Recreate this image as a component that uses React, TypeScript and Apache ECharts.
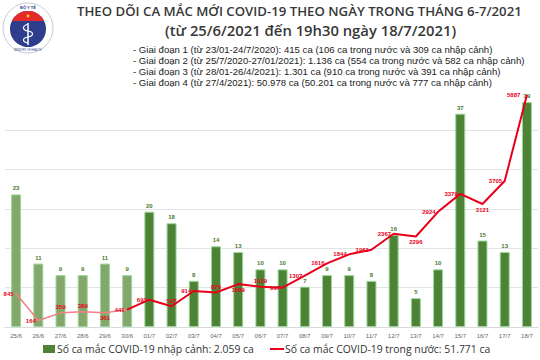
import React, { useEffect, useRef } from "react";
import * as echarts from "echarts";

const CATEGORIES = ["25/6","26/6","27/6","28/6","29/6","30/6","01/7","02/7","03/7","04/7","05/7","06/7","07/7","08/7","09/7","10/7","11/7","12/7","13/7","14/7","15/7","16/7","17/7","18/7"];
const IMPORTED = [23,11,9,9,11,9,20,18,8,14,13,10,10,7,9,9,8,16,5,10,37,15,13,39];
const DOMESTIC = [845,164,359,389,361,441,693,527,914,876,1089,1019,997,1307,1616,1844,1961,2367,2296,2924,3379,3121,3705,5887];
const LIGHT_COUNT = 6; // first period drawn lighter

const TITLE = "THEO DÕI CA MẮC MỚI COVID-19 THEO NGÀY TRONG THÁNG 6-7/2021";
const SUBTITLE = "(từ 25/6/2021 đến 19h30 ngày 18/7/2021)";
const NOTES = [
  "- Giai đoạn 1 (từ 23/01-24/7/2020): 415 ca (106 ca trong nước và 309 ca nhập cảnh)",
  "- Giai đoạn 2 (từ 25/7/2020-27/01/2021): 1.136 ca (554 ca trong nước và 582 ca nhập cảnh)",
  "- Giai đoạn 3 (từ 28/01-26/4/2021): 1.301 ca (910 ca trong nước và 391 ca nhập cảnh)",
  "- Giai đoạn 4 (từ 27/4/2021): 50.978 ca (50.201 ca trong nước và 777 ca nhập cảnh)",
];
const LEGEND_BAR = "Số ca mắc COVID-19 nhập cảnh: 2.059 ca";
const LEGEND_LINE = "Số ca mắc COVID-19 trong nước: 51.771 ca";

const LABEL_POS = ["left","left","top","top","bottom","left","left","top","left","top","bottom","top","left","left","left","left","left","left","bottom","left","left","bottom","left","left"];

let registered = false;
function registerShapes() {
  if (registered) return;
  registered = true;
  echarts.graphic.registerShape(
    "logoRed",
    (echarts.graphic as any).extendPath("M11.9 21 A18 18 0 0 1 44.1 21 Z", {})
  );
  echarts.graphic.registerShape(
    "logoSnake",
    (echarts.graphic as any).extendPath("M28 24 C22 26 22 30 28 31 C34 32 34 36 28 37 C22 38 22 42 28 43", {})
  );
}

export default function App() {
  const ref = useRef<HTMLDivElement>(null);
  useEffect(() => {
    if (!ref.current) return;
    registerShapes();
    const chart = echarts.init(ref.current, null, { renderer: "svg" });
    const red = "#e8001b";
    const lineLabel = (i: number) => ({
      show: true,
      position: LABEL_POS[i],
      distance: i === DOMESTIC.length - 1 ? 6 : 2,
      fontSize: 6,
      fontWeight: "bold",
      color: red,
      fontFamily: "Liberation Sans",
    });
    const lightData = DOMESTIC.map((v, i) =>
      i < LIGHT_COUNT ? { value: v, label: lineLabel(i) } : null
    );
    const darkData = DOMESTIC.map((v, i) =>
      i >= LIGHT_COUNT - 1
        ? { value: v, label: i >= LIGHT_COUNT ? lineLabel(i) : { show: false } }
        : null
    );
    const barData = IMPORTED.map((v, i) => ({
      value: v,
      itemStyle:
        i < LIGHT_COUNT
          ? { color: "#84a86c", borderColor: "#9bd89b", borderWidth: 1 }
          : { color: "#4e8236", borderColor: "#9bd89b", borderWidth: 1 },
    }));

    const notes = NOTES.map((t, i) => ({
      type: "text",
      left: 133,
      top: 44 + i * 11.2,
      style: { text: t, fontSize: 9.6, lineHeight: 10.5, fill: "#222", fontFamily: "Liberation Sans" },
    }));

    chart.setOption({
      animation: false,
      backgroundColor: "#ffffff",
      grid: { left: 5, right: 2, top: 90.6, bottom: 33, containLabel: false },
      xAxis: {
        type: "category",
        data: CATEGORIES,
        axisLine: { lineStyle: { color: "#d9d9d9" } },
        axisTick: { show: false },
        axisLabel: { fontSize: 6, color: "#666", margin: 6, interval: 0, fontFamily: "Liberation Sans" },
      },
      yAxis: [
        {
          type: "value",
          min: 0,
          max: 41,
          show: false,
          splitLine: { show: false },
        },
        {
          type: "value",
          min: 0,
          max: 6000,
          interval: 1000,
          axisLabel: { show: false },
          axisLine: { show: false },
          axisTick: { show: false },
          splitLine: { show: true, showMaxLine: false, lineStyle: { color: "#e3e3e3", width: 1 } },
        },
      ],
      series: [
        {
          type: "bar",
          yAxisIndex: 0,
          data: barData,
          barWidth: 10,
          label: {
            show: true,
            position: "top",
            distance: 3,
            fontSize: 6,
            fontWeight: "bold",
            color: "#4a7a30",
            fontFamily: "Liberation Sans",
          },
        },
        {
          type: "line",
          yAxisIndex: 1,
          data: lightData,
          symbol: "circle",
          symbolSize: 1,
          lineStyle: { color: "#f27f86", width: 1.5 },
          itemStyle: { color: "#f27f86" },
          z: 3,
        },
        {
          type: "line",
          yAxisIndex: 1,
          data: darkData,
          symbol: "circle",
          symbolSize: 1,
          lineStyle: { color: red, width: 2 },
          itemStyle: { color: red },
          z: 4,
        },
      ],
      graphic: [
        // logo
        { type: "circle", shape: { cx: 28, cy: 28, r: 25 }, style: { fill: "#ffffff", stroke: "#c9c9d6", lineWidth: 1 } },
        { type: "circle", shape: { cx: 28, cy: 29, r: 18 }, style: { fill: "#2e3d8c" } },
        { type: "logoRed", x: 0, y: 0, style: { fill: "#e42a2a" } },
        { type: "circle", shape: { cx: 28, cy: 16, r: 1.5 }, style: { fill: "#ffd400" } },
        { type: "line", shape: { x1: 28, y1: 23, x2: 28, y2: 45 }, style: { stroke: "#ffffff", lineWidth: 1.5 } },
        { type: "logoSnake", x: 0, y: 0, style: { fill: null, stroke: "#ffffff", lineWidth: 1.2 } },
        { type: "text", left: 20, top: 5, style: { text: "BỘ Y TẾ", fontSize: 4, fill: "#2e3d8c", fontWeight: "bold", fontFamily: "Liberation Sans" } },
        { type: "text", left: 14, top: 49, style: { text: "MINISTRY OF HEALTH", fontSize: 2.6, fill: "#2e3d8c", fontFamily: "Liberation Sans" } },
        // titles
        {
          type: "text",
          left: 77,
          top: 4,
          style: { text: TITLE, fontSize: 13.2, fill: "#383838", fontWeight: 600, fontFamily: "Open Sans" },
        },
        {
          type: "text",
          left: 165,
          top: 22,
          style: { text: SUBTITLE, fontSize: 14.8, fill: "#383838", fontWeight: 600, fontFamily: "Open Sans" },
        },
        ...notes,
        // legend
        { type: "rect", shape: { x: 43, y: 345, width: 12, height: 8 }, style: { fill: "#4e8236" } },
        {
          type: "text",
          left: 57,
          top: 342,
          style: { text: LEGEND_BAR, fontSize: 10.4, lineHeight: 13, fill: "#333", fontFamily: "Open Sans" },
        },
        { type: "line", shape: { x1: 270, y1: 349, x2: 284, y2: 349 }, style: { stroke: red, lineWidth: 2 } },
        {
          type: "text",
          left: 285,
          top: 342,
          style: { text: LEGEND_LINE, fontSize: 10.4, lineHeight: 13, fill: "#333", fontFamily: "Open Sans" },
        },
      ],
    });
    return () => chart.dispose();
  }, []);
  return <div ref={ref} style={{ width: 540, height: 360, position: "absolute", left: 0, top: 0 }} />;
}
